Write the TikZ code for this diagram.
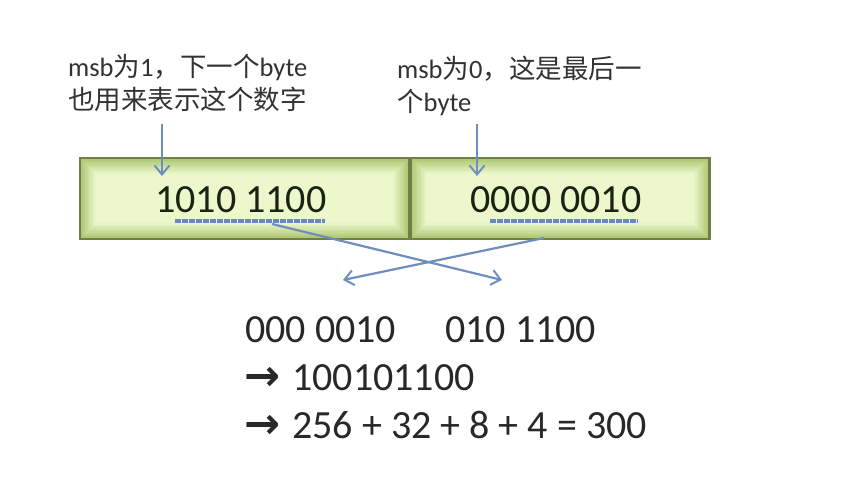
\documentclass[tikz,border=0pt]{standalone}
\usepackage{fontspec}
\setmainfont{Carlito}
\newfontfamily\cjk{Noto Sans CJK SC}
\newfontfamily\symf{DejaVu Sans}
\usetikzlibrary{arrows.meta}
\definecolor{boxedge}{RGB}{172,198,112}
\definecolor{boxcenter}{RGB}{236,248,204}
\definecolor{boxborder}{RGB}{110,128,72}
\definecolor{arrowblue}{RGB}{110,142,190}
\definecolor{ulblue}{RGB}{104,136,190}
\definecolor{labeltext}{RGB}{50,50,50}
\definecolor{digittext}{RGB}{26,34,18}
\definecolor{bottomtext}{RGB}{40,40,40}
\tikzset{
  greenbox/.style={draw=boxborder, line width=2.6pt, inner sep=0pt,
    path picture={
      \foreach \i in {0,...,12}{
        \pgfmathsetmacro\p{100*\i/12}
        \fill[boxcenter!\p!boxedge]
          ([shift={(\i*1.3pt,-\i*1.3pt)}]path picture bounding box.north west)
          rectangle
          ([shift={(-\i*1.3pt,\i*1.3pt)}]path picture bounding box.south east);
      }
    }},
  labeltxt/.style={anchor=base west, inner sep=0pt, text=labeltext, font=\fontsize{26.5pt}{30pt}\selectfont},
  digits/.style={anchor=base west, inner sep=0pt, text=digittext, font=\fontsize{40pt}{44pt}\selectfont},
  bottomtxt/.style={anchor=base west, inner sep=0pt, text=bottomtext, font=\fontsize{40pt}{44pt}\selectfont},
  arrowtxt/.style={anchor=base west, inner sep=0pt, text=bottomtext, font=\symf\bfseries\fontsize{43pt}{46pt}\selectfont},
  pointer/.style={draw=arrowblue, line width=2.2pt, -{Straight Barb[length=9pt,width=15pt,line width=2pt]}},
  uline/.style={draw=ulblue, line width=3.2pt, dash pattern=on 6pt off 1pt},
}
\begin{document}
\begin{tikzpicture}[x=1pt,y=-1pt]
\useasboundingbox (0,0) rectangle (852,482);
\fill[white] (0,0) rectangle (852,482);

% boxes
\node[greenbox, minimum width=329pt, minimum height=81pt] (boxL) at (244.5,198.5) {};
\node[greenbox, minimum width=299pt, minimum height=81pt] (boxR) at (560,198.5) {};

% labels
\node[labeltxt] (l1a) at (68,76) {msb{\cjk 为}1{\cjk ，下一个}byte};
\node[labeltxt] (l1b) at (68,109) {\cjk 也用来表示这个数字};
\node[labeltxt] (l2a) at (397,78) {msb{\cjk 为}0{\cjk ，这是最后一}};
\node[labeltxt] (l2b) at (397,111) {{\cjk 个}byte};

% box digits
\node[digits] (dL) at (155,212) {1010 1100};
\node[digits] (dR) at (470,212) {0000 0010};

% underlines
\coordinate (uLa) at (175,221); \coordinate (uLb) at (325,221);
\coordinate (uRa) at (490,221); \coordinate (uRb) at (638,221);
\draw[uline] (uLa) -- (uLb);
\draw[uline] (uRa) -- (uRb);

% pointers from labels
\coordinate (pL1) at (162,124); \coordinate (pL2) at (162,176);
\coordinate (pR1) at (477,124); \coordinate (pR2) at (477,176);
\draw[pointer] (pL1) -- (pL2);
\draw[pointer] (pR1) -- (pR2);

% crossing arrows
\coordinate (cL1) at (272,224); \coordinate (cL2) at (502,280);
\coordinate (cR1) at (544,238); \coordinate (cR2) at (343,280);
\draw[pointer] (cL1) -- (cL2);
\draw[pointer] (cR1) -- (cR2);

% bottom text
\node[bottomtxt] (b1a) at (245,342) {000 0010};
\node[bottomtxt] (b1b) at (445,342) {010 1100};
\node[arrowtxt] (a2) at (244,390) {→};
\node[bottomtxt] (b2) at (292,390) {100101100};
\node[arrowtxt] (a3) at (244,438) {→};
\node[bottomtxt] (b3) at (292,438) {256 + 32 + 8 + 4 = 300};
\end{tikzpicture}
\end{document}
